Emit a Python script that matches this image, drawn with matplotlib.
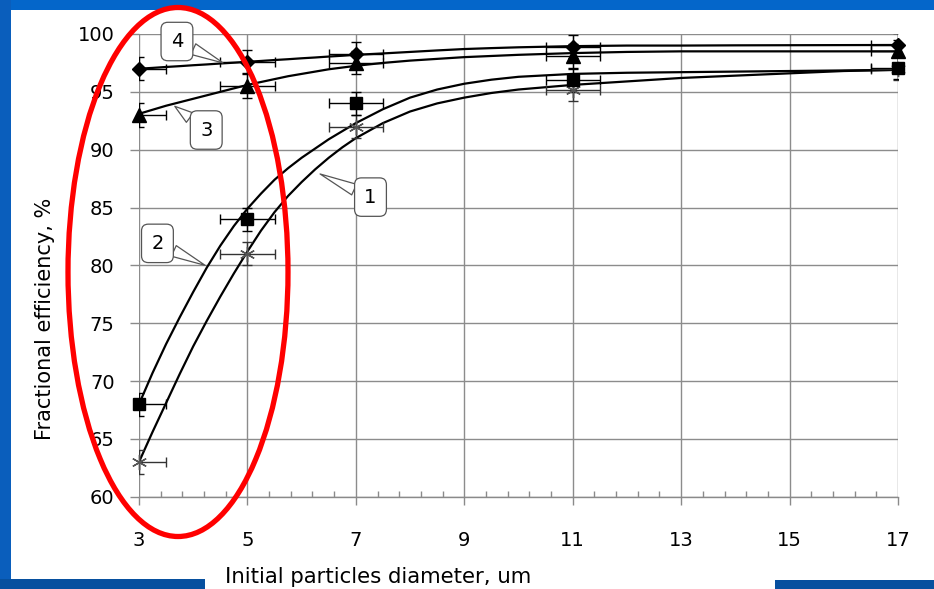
import numpy as np
import matplotlib
matplotlib.use("Agg")
import matplotlib.pyplot as plt
from matplotlib.patches import Rectangle, Ellipse
from matplotlib.ticker import FixedLocator

# ---- data ----
diam = [3, 5, 7, 11, 17]
eff1 = [63.0, 81.0, 92.0, 95.2, 97.0]   # curve 1 (asterisk)
eff2 = [68.0, 84.0, 94.0, 96.0, 97.1]   # curve 2 (square)
eff3 = [93.0, 95.5, 97.5, 98.1, 98.5]   # curve 3 (triangle)
eff4 = [97.0, 97.6, 98.3, 98.9, 99.05]  # curve 4 (diamond)
yerr_val = 1.0
xerr_val = 0.5

# fitted trend curves
curve_x = [3, 3.25, 3.5, 3.75, 4, 4.25, 4.5, 4.75, 5, 5.25, 5.5, 5.75, 6, 6.25, 6.5, 6.75, 7,
           7.5, 8, 8.5, 9, 9.5, 10, 11, 12, 13, 14, 15, 16, 17]
curve1 = [63.0, 65.6, 68.1, 70.6, 73.0, 75.2, 77.3, 79.3, 81.2, 83.0, 84.6, 86.0, 87.2, 88.3, 89.3,
          90.2, 91.0, 92.3, 93.3, 94.0, 94.5, 94.9, 95.2, 95.6, 95.9, 96.2, 96.4, 96.6, 96.8, 96.9]
curve2 = [68.0, 70.7, 73.2, 75.5, 77.7, 79.8, 81.7, 83.4, 84.9, 86.2, 87.4, 88.4, 89.3, 90.1, 90.9,
          91.6, 92.3, 93.5, 94.5, 95.2, 95.7, 96.05, 96.3, 96.55, 96.65, 96.7, 96.75, 96.8, 96.85, 96.9]
curve3 = [93.1, 93.45, 93.8, 94.1, 94.4, 94.7, 95.0, 95.3, 95.6, 95.85, 96.1, 96.35, 96.55, 96.75,
          96.95, 97.1, 97.25, 97.5, 97.7, 97.85, 98.0, 98.1, 98.2, 98.35, 98.45, 98.5, 98.5, 98.5,
          98.5, 98.5]
curve4 = [97.0, 97.07, 97.15, 97.22, 97.3, 97.37, 97.45, 97.52, 97.6, 97.67, 97.75, 97.82, 97.9,
          97.97, 98.05, 98.12, 98.2, 98.32, 98.45, 98.58, 98.7, 98.78, 98.85, 98.95, 99.0, 99.0,
          99.02, 99.03, 99.04, 99.05]

callout_labels = ["1", "2", "3", "4"]
x_ticks = [3, 5, 7, 9, 11, 13, 15, 17]
y_ticks = [60, 65, 70, 75, 80, 85, 90, 95, 100]

W, H = 934, 589
fig = plt.figure(figsize=(W / 100, H / 100), dpi=100)
fig.patch.set_facecolor("white")

def px_rect(x0, y0, x1, y1, color):
    fig.patches.append(Rectangle((x0 / W, 1 - y1 / H), (x1 - x0) / W, (y1 - y0) / H,
                                 transform=fig.transFigure, facecolor=color, edgecolor="none",
                                 zorder=-10))

px_rect(0, 0, W, 10, "#0466CA")
px_rect(0, 0, 11, H, "#0A5EBC")
px_rect(0, 579, 205, H, "#07509F")
px_rect(775, 580, W, H, "#07509F")

ax = fig.add_axes([139 / W, 1 - 496.7 / H, (898 - 139) / W, (496.7 - 34) / H])
ax.set_xlim(3, 17)
ax.set_ylim(60, 100)
for s in ax.spines.values():
    s.set_visible(False)
ax.spines["bottom"].set_visible(True)
ax.spines["bottom"].set_color("#8a8a8a")
ax.spines["bottom"].set_linewidth(1.0)

ax.set_xticks(x_ticks)
ax.set_yticks(y_ticks)
ax.xaxis.set_minor_locator(FixedLocator(np.arange(3, 17.01, 0.4)))
ax.grid(True, which="major", color="#8c8c8c", linewidth=1.0)
ax.set_axisbelow(True)
ax.tick_params(axis="x", which="major", direction="out", length=6, width=1.0, color="#8a8a8a",
               pad=19, labelsize=14)
ax.tick_params(axis="x", which="minor", direction="in", length=4, width=1.0, color="#8a8a8a")
ax.tick_params(axis="y", which="major", direction="out", length=6.5, width=1.0, color="#8a8a8a",
               pad=11, labelsize=14)

# curves
for cy in (curve1, curve2, curve3, curve4):
    ax.plot(curve_x, cy, color="black", lw=1.6, zorder=3, solid_joinstyle="round")

# error bars
for ey, c in ((eff1, "#333333"), (eff2, "black"), (eff3, "black"), (eff4, "black")):
    ax.errorbar(diam, ey, yerr=yerr_val, xerr=xerr_val, fmt="none", ecolor=c, elinewidth=1.0,
                capsize=3.5, capthick=1.0, zorder=4)

# markers
ax.plot(diam, eff1, linestyle="none", marker=(6, 2, 0), markersize=11, mew=1.0, color="#555555",
        clip_on=False, zorder=5)
ax.plot(diam, eff2, linestyle="none", marker="s", markersize=8.5, color="black", clip_on=False, zorder=5)
ax.plot(diam, eff3, linestyle="none", marker="^", markersize=9.5, color="black", clip_on=False, zorder=5)
ax.plot(diam, eff4, linestyle="none", marker="D", markersize=7, color="black", clip_on=False, zorder=5)

# callouts
call_tips = [(6.34, 87.9), (4.22, 80.0), (3.66, 93.75), (4.55, 97.5)]
call_boxes = [(7.27, 85.9), (3.34, 81.9), (4.24, 91.7), (3.70, 99.35)]
for lab, tip, box in zip(callout_labels, call_tips, call_boxes):
    ax.annotate(lab, xy=tip, xytext=box, textcoords="data", ha="center", va="center",
                fontsize=14, zorder=6, annotation_clip=False,
                bbox=dict(boxstyle="round,pad=0.5,rounding_size=0.35", fc="white", ec="#555555", lw=0.9),
                arrowprops=dict(arrowstyle="wedge,tail_width=0.6,shrink_factor=0.5", fc="white",
                                ec="#555555", lw=0.9, shrinkA=0, shrinkB=0))

fig.text(45 / W, 1 - 319 / H, "Fractional efficiency, %", rotation=90, ha="center", va="center",
         fontsize=15)
fig.text(225 / W, 1 - 577 / H, "Initial particles diameter, um", ha="left", va="center", fontsize=15.3)

# red highlight ellipse
el = Ellipse((178 / W, 1 - 272 / H), 220 / W, 529 / H, transform=fig.transFigure,
             fill=False, edgecolor="#FF0000", linewidth=3.8, zorder=20)
fig.patches.append(el)

fig.savefig("out.png", dpi=100, facecolor=fig.get_facecolor())
